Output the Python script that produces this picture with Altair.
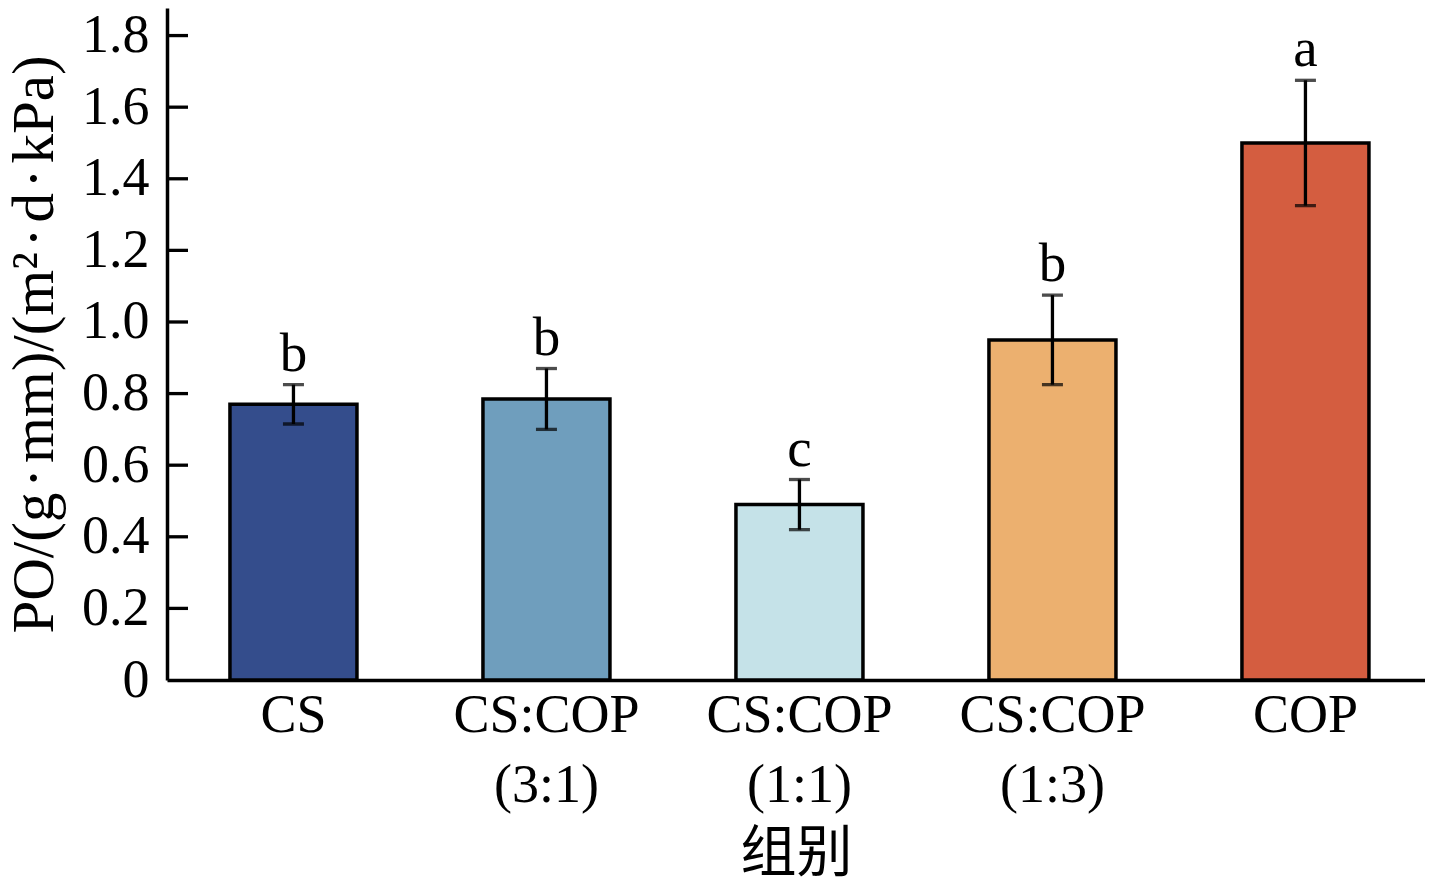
import altair as alt
import pandas as pd

groups = ["CS", "CS:COP\n(3:1)", "CS:COP\n(1:1)", "CS:COP\n(1:3)", "COP"]
means = [0.77, 0.785, 0.49, 0.95, 1.50]
err_low = [0.715, 0.70, 0.42, 0.825, 1.325]
err_high = [0.825, 0.87, 0.56, 1.075, 1.675]
letters = ["b", "b", "c", "b", "a"]
colors = ["#344d8c", "#6f9ebd", "#c5e2e8", "#ecb06f", "#d45d40"]
tick_values = [0.2, 0.4, 0.6, 0.8, 1.0, 1.2, 1.4, 1.6, 1.8]
axis_values = [0, 0.2, 0.4, 0.6, 0.8, 1.0, 1.2, 1.4, 1.6, 1.8]

df = pd.DataFrame({"group": groups, "mean": means, "low": err_low,
                   "high": err_high, "letter": letters})
ticks_df = pd.DataFrame({"v": tick_values})

SERIF = "Liberation Serif"
D = "\u200a·\u200a"
YTITLE = "PO/(g" + D + "mm)/(m²" + D + "d" + D + "kPa)"

yscale = alt.Scale(domain=[0, 1.877], nice=False, zero=True)
yaxis = alt.Axis(values=axis_values, labelFontSize=54, labelPadding=18,
                 labelFont=SERIF, labelColor="black", ticks=False, grid=False,
                 domainColor="black", domainWidth=3.5,
                 labelExpr="datum.value == 0 ? '0' : format(datum.value, '.1f')",
                 titleFont=SERIF, titleFontSize=59, titleFontWeight="normal",
                 titlePadding=17, titleColor="black")

xscale = alt.Scale(paddingInner=0.498, paddingOuter=0.2352, align=0.529)
xaxis = alt.Axis(labelAngle=0, labelFontSize=54, labelLineHeight=70,
                 labelFont=SERIF, labelColor="black", ticks=False, grid=False,
                 domainColor="black", domainWidth=3.5, labelLimit=1000,
                 labelPadding=8, labelExpr="split(datum.label, '\\n')",
                 title="组别", titleFont="Noto Sans CJK SC", titleFontSize=56,
                 titleFontWeight="normal", titlePadding=14, titleColor="black")

base = alt.Chart(df)
x_enc = alt.X("group:N", sort=groups, scale=xscale, axis=xaxis)

bars = base.mark_bar(stroke="black", strokeWidth=3.5).encode(
    x=x_enc,
    y=alt.Y("mean:Q", scale=yscale, axis=yaxis, title=YTITLE),
    color=alt.Color("group:N", scale=alt.Scale(domain=groups, range=colors), legend=None),
)

err = base.mark_rule(color="black", strokeWidth=3.3).encode(
    x=x_enc,
    y=alt.Y("low:Q", scale=yscale, axis=yaxis, title=YTITLE),
    y2="high:Q",
)

cap_low = base.mark_tick(color="black", thickness=3.3, size=21).encode(
    x=x_enc,
    y=alt.Y("low:Q", scale=yscale, axis=yaxis, title=YTITLE),
)
cap_high = base.mark_tick(color="black", thickness=3.3, size=21).encode(
    x=x_enc,
    y=alt.Y("high:Q", scale=yscale, axis=yaxis, title=YTITLE),
)

labels = base.mark_text(dy=-14, baseline="alphabetic", fontSize=55,
                        font=SERIF, color="black").encode(
    x=x_enc,
    y=alt.Y("high:Q", scale=yscale, axis=yaxis, title=YTITLE),
    text="letter:N",
)

inner_ticks = alt.Chart(ticks_df).mark_rule(color="black", strokeWidth=3.3).encode(
    x=alt.value(0), x2=alt.value(21),
    y=alt.Y("v:Q", scale=yscale, axis=yaxis, title=YTITLE),
)

chart = alt.layer(bars, err, cap_low, cap_high, labels, inner_ticks).properties(
    width=1258, height=672, background="white",
    autosize=alt.AutoSizeParams(type="none"),
    padding={"left": 159, "top": 0, "right": 0, "bottom": 200},
).configure_view(stroke="transparent").configure_axis(
    labelFont=SERIF, labelColor="black", domainColor="black", domainWidth=3.5,
    ticks=False, grid=False,
)

chart.save("out.html", embed_options={"renderer": "svg", "actions": False})
